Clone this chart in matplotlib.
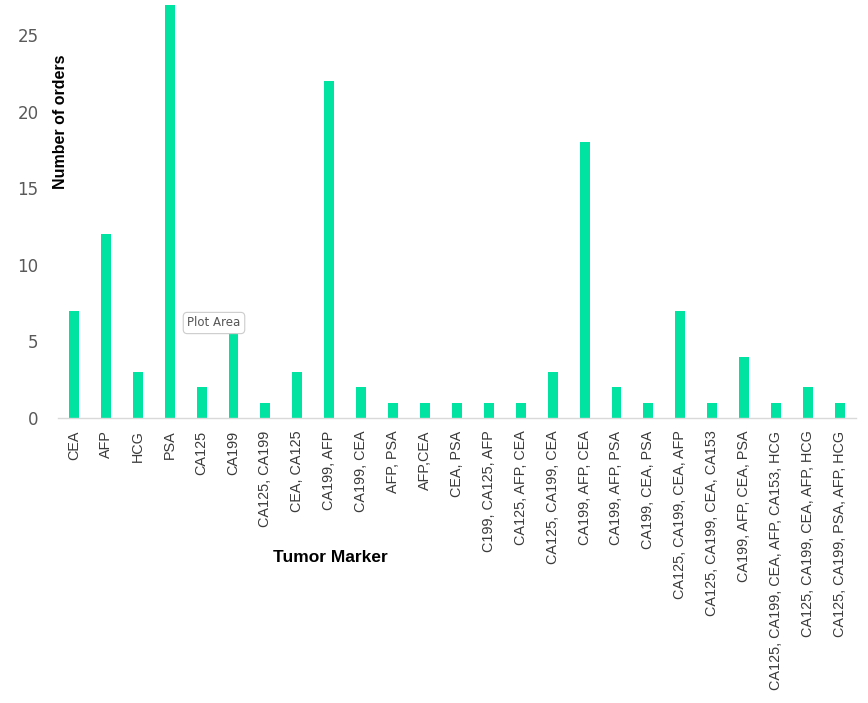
import matplotlib.pyplot as plt

# tumor marker combinations and order counts
markers = ['CEA', 'AFP', 'HCG', 'PSA', 'CA125', 'CA199', 'CA125, CA199', 'CEA, CA125',
           'CA199, AFP', 'CA199, CEA', 'AFP, PSA', 'AFP,CEA', 'CEA, PSA', 'C199, CA125, AFP',
           'CA125, AFP, CEA', 'CA125, CA199, CEA', 'CA199, AFP, CEA', 'CA199, AFP, PSA',
           'CA199, CEA, PSA', 'CA125, CA199, CEA, AFP', 'CA125, CA199, CEA, CA153',
           'CA199, AFP, CEA, PSA', 'CA125, CA199, CEA, AFP, CA153, HCG',
           'CA125, CA199, CEA, AFP, HCG', 'CA125, CA199, PSA, AFP, HCG']
orders = [7, 12, 3, 27, 2, 6, 1, 3, 22, 2, 1, 1, 1, 1, 1, 3, 18, 2, 1, 7, 1, 4, 1, 2, 1]
y_ticks = [0, 5, 10, 15, 20, 25]

fig = plt.figure(figsize=(8.68, 7.03), dpi=100)
ax = fig.add_axes([0.0668, 0.4054, 0.9192, 0.5946])

x = list(range(len(markers)))
ax.bar(x, orders, width=0.31, color='#00e3a1')

ax.set_xlim(-0.5, len(markers) - 0.5)
ax.set_ylim(0, 27.3)
ax.set_yticks(y_ticks)
ax.set_yticklabels([str(v) for v in y_ticks], fontsize=12, color='#595959', family='DejaVu Sans')
ax.set_xticks(x)
ax.set_xticklabels(markers, rotation=90, fontsize=10.4, color='#3a3a3a',
                   family='Liberation Sans', va='top', ha='center')
ax.tick_params(axis='both', length=0)
ax.tick_params(axis='y', pad=14)
ax.tick_params(axis='x', pad=9)

for s in ['top', 'right', 'left']:
    ax.spines[s].set_visible(False)
ax.spines['bottom'].set_color('#d9d9d9')
ax.spines['bottom'].set_linewidth(1)

ax.set_ylabel('Number of orders', fontsize=11.5, fontweight='bold', family='Liberation Sans')
ax.yaxis.set_label_coords(0.013, 0.708)

fig.text(330 / 868, 1 - 557 / 703, 'Tumor Marker', fontsize=12.5, fontweight='bold',
         family='Liberation Sans', ha='center', va='center')

# tooltip seen in the screenshot
fig.text(214 / 868, 1 - 323 / 703, 'Plot Area', fontsize=8.5, color='#555555',
         family='DejaVu Sans', ha='center', va='center',
         bbox=dict(boxstyle='round,pad=0.35', fc='white', ec='#cccccc', lw=0.8))

fig.savefig('out.png', dpi=100)
